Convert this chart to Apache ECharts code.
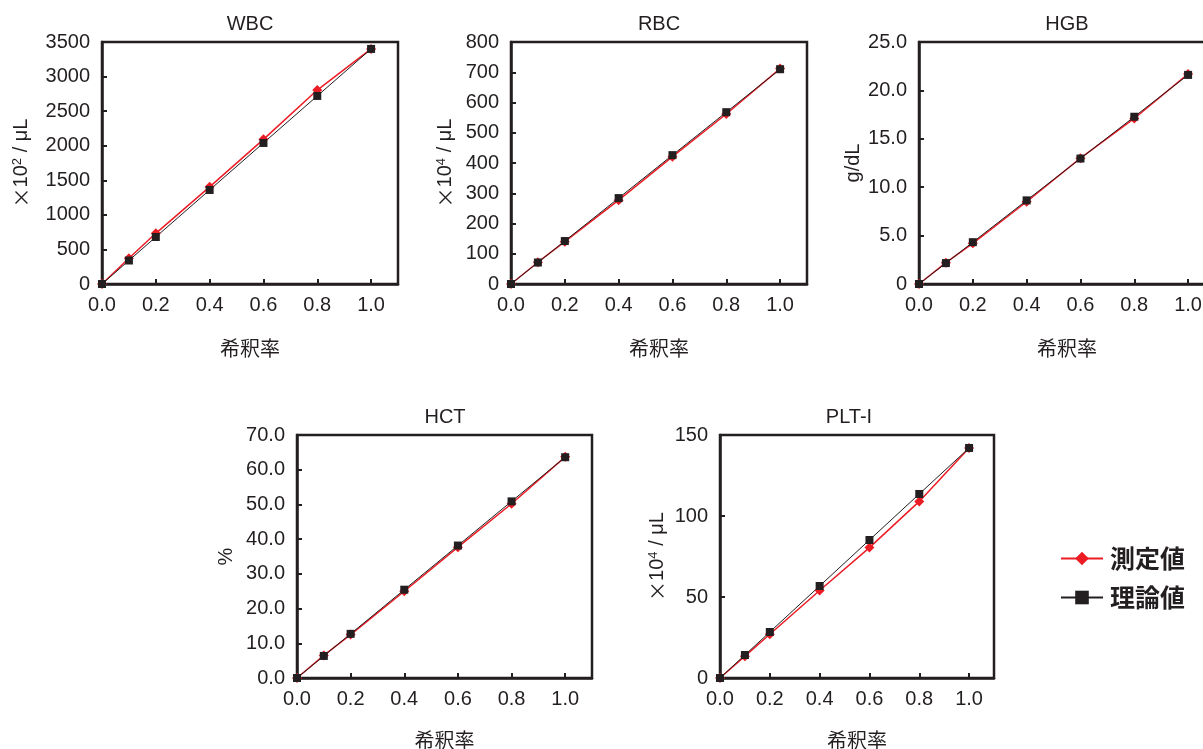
<!DOCTYPE html>
<html><head><meta charset="utf-8">
<script src="https://cdn.jsdelivr.net/npm/echarts@6/dist/echarts.min.js"></script>
<style>html,body{margin:0;padding:0;background:#fff}#c{width:1203px;height:749px}</style>
</head><body><div id="c"></div>
<script>
// ---- data ----
const dilution = [0, 0.1, 0.2, 0.4, 0.6, 0.8, 1.0];
const xTicks = [0, 0.2, 0.4, 0.6, 0.8, 1.0];
const seriesNames = ['測定値', '理論値'];
const chartTitles = ['WBC', 'RBC', 'HGB', 'HCT', 'PLT-I'];
const wbcMeasured = [0, 372, 733, 1405, 2092, 2805, 3400];
const wbcTheory   = [0, 340, 680, 1360, 2040, 2720, 3400];
const rbcMeasured = [0, 72, 140, 277, 421, 562, 712];
const rbcTheory   = [0, 71, 142, 284, 426, 568, 710];
const hgbMeasured = [0, 2.2, 4.2, 8.5, 13.0, 17.1, 21.7];
const hgbTheory   = [0, 2.16, 4.32, 8.64, 12.96, 17.28, 21.6];
const hctMeasured = [0, 6.5, 12.5, 25.0, 37.7, 50.2, 63.7];
const hctTheory   = [0, 6.36, 12.72, 25.44, 38.16, 50.88, 63.6];
const pltMeasured = [0, 13.5, 27.0, 54.0, 80.5, 109, 142];
const pltTheory   = [0, 14.2, 28.4, 56.8, 85.2, 113.6, 142];
const wbcTicks = [0, 500, 1000, 1500, 2000, 2500, 3000, 3500];
const rbcTicks = [0, 100, 200, 300, 400, 500, 600, 700, 800];
const hgbTicks = ['0', '5.0', '10.0', '15.0', '20.0', '25.0'];
const hctTicks = ['0.0', '10.0', '20.0', '30.0', '40.0', '50.0', '60.0', '70.0'];
const pltTicks = [0, 50, 100, 150];
const yUnits = ['{x|×}10{sup|2} / μL', '{x|×}10{sup|4} / μL', 'g/dL', '%', '{x|×}10{sup|4} / μL'];

// ---- layout / style ----
const INK = '#231f20', RED = '#ec1c24';
const FONT = '"Liberation Sans", "Noto Sans CJK JP", sans-serif';
const CJK = '"Noto Sans CJK JP", sans-serif';
const grids = [
  {left: 102, top: 42, width: 296, height: 242},
  {left: 511, top: 42, width: 296, height: 242},
  {left: 919, top: 42, width: 296, height: 242},
  {left: 297, top: 435, width: 295, height: 243},
  {left: 720, top: 435, width: 274, height: 243}
];
const nameGaps = [70, 55, 56, 61, 52];
const xNameGaps = [54, 54, 54, 52, 52];
const titleX = [250, 659, 1067, 445, 849];
const titleY = [24, 24, 24, 417, 417];
const yTickSets = [wbcTicks, rbcTicks, hgbTicks, hctTicks, pltTicks];
const measured = [wbcMeasured, rbcMeasured, hgbMeasured, hctMeasured, pltMeasured];
const theory = [wbcTheory, rbcTheory, hgbTheory, hctTheory, pltTheory];

const xAxes = [], yAxes = [], series = [], titles = [];
grids.forEach((g, i) => {
  const ticks = yTickSets[i];
  const yMin = Number(ticks[0]), yMax = Number(ticks[ticks.length - 1]);
  const yInt = Number(ticks[1]) - Number(ticks[0]);
  titles.push({
    text: chartTitles[i], left: titleX[i], top: titleY[i], padding: 0,
    textAlign: 'center', textVerticalAlign: 'middle',
    textStyle: {fontFamily: FONT, fontSize: 20, fontWeight: 'normal', color: INK}
  });
  xAxes.push({
    type: 'value', gridIndex: i, min: xTicks[0], max: 1.1, interval: xTicks[1] - xTicks[0],
    axisLine: {show: true, lineStyle: {color: INK, width: 2.5}},
    axisTick: {show: true, inside: true, length: 5, lineStyle: {color: INK, width: 2}},
    splitLine: {show: false},
    axisLabel: {
      showMaxLabel: false, margin: 11, fontFamily: FONT, fontSize: 20, color: INK,
      formatter: v => {
        const k = xTicks.findIndex(t => Math.abs(t - v) < 1e-6);
        return k < 0 ? '' : xTicks[k].toFixed(1);
      }
    },
    name: '希釈率', nameLocation: 'middle', nameGap: xNameGaps[i],
    nameTextStyle: {fontFamily: CJK, fontSize: 20, color: INK}
  });
  yAxes.push({
    type: 'value', gridIndex: i, min: yMin, max: yMax, interval: yInt,
    axisLine: {show: true, lineStyle: {color: INK, width: 2.5}},
    axisTick: {show: true, inside: true, length: 5, lineStyle: {color: INK, width: 2}},
    splitLine: {show: false},
    axisLabel: {
      margin: 12, fontFamily: FONT, fontSize: 20, color: INK,
      formatter: v => {
        const k = ticks.findIndex(t => Math.abs(Number(t) - v) < 1e-6);
        return k < 0 ? '' : String(ticks[k]);
      }
    },
    name: yUnits[i], nameLocation: 'middle', nameGap: nameGaps[i],
    nameTextStyle: {
      fontFamily: FONT, fontSize: 20, color: INK,
      rich: {
        sup: {fontFamily: FONT, fontSize: 13, color: INK, verticalAlign: 'top', padding: [0, 0, 8, 0]},
        x: {fontFamily: CJK, fontSize: 20, color: INK}
      }
    }
  });
  series.push({
    name: seriesNames[0], type: 'line', xAxisIndex: i, yAxisIndex: i,
    data: dilution.map((x, j) => [x, measured[i][j]]),
    symbol: 'diamond', symbolSize: 10, showAllSymbol: true,
    lineStyle: {color: RED, width: 1.5}, itemStyle: {color: RED},
    emphasis: {disabled: true}, animation: false
  });
  series.push({
    name: seriesNames[1], type: 'line', xAxisIndex: i, yAxisIndex: i,
    data: dilution.map((x, j) => [x, theory[i][j]]),
    symbol: 'rect', symbolSize: 8, showAllSymbol: true,
    lineStyle: {color: INK, width: 1}, itemStyle: {color: INK},
    emphasis: {disabled: true}, animation: false
  });
});

const chart = echarts.init(document.getElementById('c'), null, {renderer: 'canvas'});
chart.setOption({
  backgroundColor: '#fff',
  animation: false,
  title: titles,
  grid: grids.map(g => Object.assign({show: true, borderColor: INK, borderWidth: 2.5, containLabel: false, outerBoundsMode: 'none'}, g)),
  xAxis: xAxes,
  yAxis: yAxes,
  legend: {
    data: seriesNames, orient: 'vertical', left: 1060, top: 546, padding: 0,
    itemWidth: 42, itemHeight: 17, itemGap: 14,
    textStyle: {fontFamily: CJK, fontSize: 25, fontWeight: 'bold', color: INK, padding: [0, 0, 0, 2]}
  },
  series: series
});
</script></body></html>
